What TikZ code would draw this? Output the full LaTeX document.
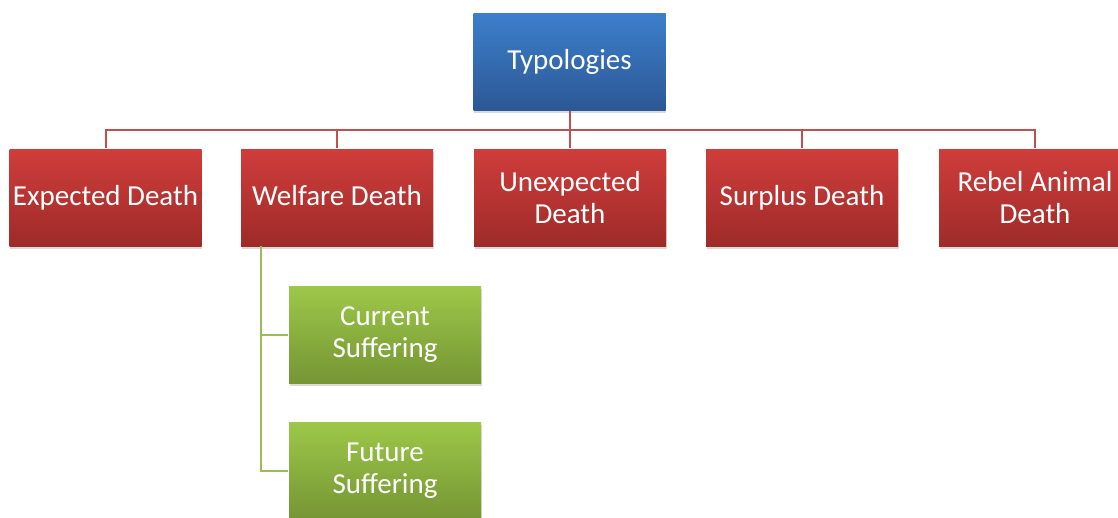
\documentclass[tikz,border=0pt]{standalone}
\usepackage{fontspec}
\setmainfont{Carlito}
\usetikzlibrary{shadows}

\definecolor{boxred}{HTML}{CF3D3B}
\definecolor{boxreddark}{HTML}{9E2B29}
\definecolor{boxblue}{HTML}{3C7FCC}
\definecolor{boxbluedark}{HTML}{2C5894}
\definecolor{boxgreen}{HTML}{9DC849}
\definecolor{boxgreendark}{HTML}{759533}
\definecolor{linered}{HTML}{C0504D}
\definecolor{linegreen}{HTML}{9BBB59}

\begin{document}
\begin{tikzpicture}[
                        x=1pt,
                        y=-1pt,
                        line width=2pt,
                        font=\fontsize{29}{32}\selectfont
                    ]
                    \tikzstyle{every node}=[align=center,text=white,inner sep=2pt,
                        minimum width=192pt,minimum height=97pt,
                        drop shadow={shadow xshift=0.5pt,shadow yshift=-3pt,opacity=0.3}]
                    \tikzstyle{top}=[top color=boxblue,bottom color=boxbluedark]
                    \tikzstyle{kind}=[top color=boxred,bottom color=boxreddark]
                    \tikzstyle{sub}=[top color=boxgreen,bottom color=boxgreendark]
                    \tikzstyle{redline}=[draw=linered]
                    \tikzstyle{greenline}=[draw=linegreen]

                    \useasboundingbox (0,0) rectangle (1118,517);
                    \clip (0,0) rectangle (1118,517);

                    \node[top]  (typ) at (569.5,61.5) {Typologies} ;
                    \node[kind] (exp) at (105.5,197.5) {Expected Death} ;
                    \node[kind] (wel) at (337,197.5)   {Welfare Death\vphantom{p}} ;
                    \node[kind] (unx) at (570,197.5)   {Unexpected\\Death} ;
                    \node[kind] (sur) at (802,197.5)   {Surplus Death} ;
                    \node[kind] (reb) at (1035,197.5)  {Rebel Animal\\Death} ;
                    \node[sub]  (cur) at (385,334.5)   {Current\\Suffering} ;
                    \node[sub]  (fut) at (385,470.5)   {Future\\Suffering} ;

                    \coordinate (bus)   at (569.5,130) ;
                    \coordinate (trunk) at (261,246) ;

                    % red tree under the top box
                    \draw[redline] (typ.south) -- (bus) ;
                    \foreach \n in {exp,wel,unx,sur,reb}
                        \draw[redline] (bus) -| (\n.north) ;

                    % green tree under welfare death
                    \draw[greenline] (trunk) |- (cur.west) ;
                    \draw[greenline] (trunk) |- (fut.west) ;
                \end{tikzpicture}
\end{document}
